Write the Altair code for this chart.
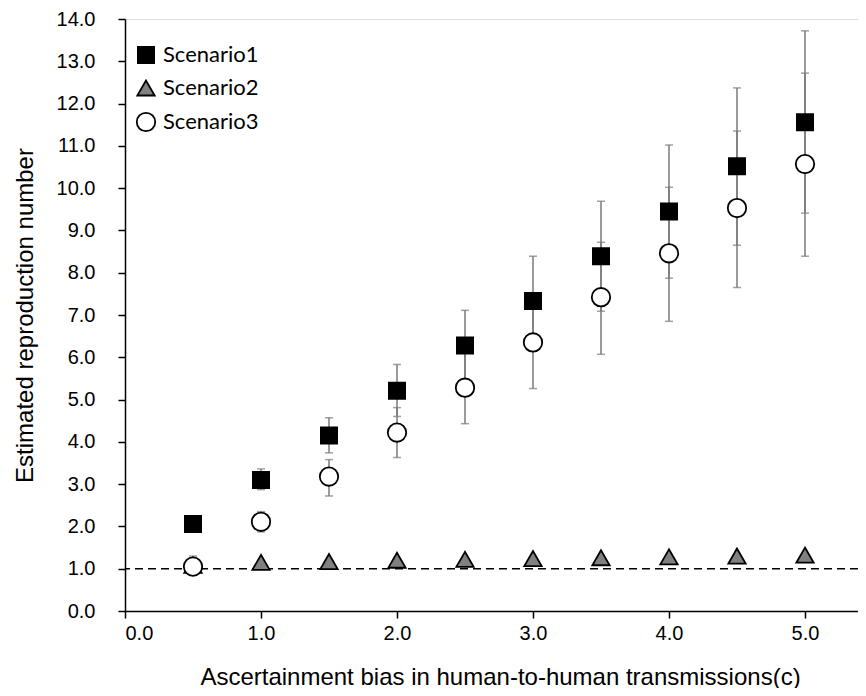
import altair as alt
import pandas as pd

# ---- data ----
x_vals = [0.5, 1.0, 1.5, 2.0, 2.5, 3.0, 3.5, 4.0, 4.5, 5.0]

s1_mid = [2.06, 3.10, 4.15, 5.21, 6.28, 7.33, 8.39, 9.45, 10.52, 11.56]
s1_lo = [2.00, 2.87, 3.74, 4.60, 5.45, 6.30, 7.09, 7.87, 8.65, 9.41]
s1_hi = [2.12, 3.36, 4.57, 5.83, 7.11, 8.39, 9.69, 11.02, 12.37, 13.72]

s2_mid = [1.08, 1.15, 1.17, 1.20, 1.22, 1.24, 1.26, 1.28, 1.30, 1.32]

s3_mid = [1.05, 2.11, 3.18, 4.22, 5.28, 6.35, 7.42, 8.46, 9.53, 10.57]
s3_lo = [0.92, 1.87, 2.72, 3.63, 4.43, 5.26, 6.07, 6.85, 7.65, 8.39]
s3_hi = [1.30, 2.35, 3.58, 4.81, 6.10, 7.40, 8.72, 10.02, 11.35, 12.72]

names = ["Scenario1", "Scenario2", "Scenario3"]
shapes = ["square", "triangle-up", "circle"]
fills = ["#000000", "#808080", "#ffffff"]
strokes = ["#000000", "#000000", "#000000"]
sizes = [262, 340, 180]
ref_line = [1.0]

y_ticks = [i * 0.5 for i in range(29)]
x_ticks = [0, 1, 2, 3, 4, 5]

# ---- tables ----
pts = pd.concat([
    pd.DataFrame({"x": x_vals, "y": s2_mid, "Scenario": "Scenario2"}),
    pd.DataFrame({"x": x_vals, "y": s1_mid, "Scenario": "Scenario1"}),
    pd.DataFrame({"x": x_vals, "y": s3_mid, "Scenario": "Scenario3"}),
], ignore_index=True)

errs = pd.concat([
    pd.DataFrame({"x": x_vals, "lo": s1_lo, "hi": s1_hi, "Scenario": "Scenario1"}),
    pd.DataFrame({"x": x_vals, "lo": s3_lo, "hi": s3_hi, "Scenario": "Scenario3"}),
], ignore_index=True)

W, H = 733, 592

xscale = alt.Scale(domain=[0, W / 136.0], nice=False, zero=False)
yscale = alt.Scale(domain=[0, 14], nice=False)

xaxis = alt.Axis(
    values=x_ticks, format=".1f", title="Ascertainment bias in human-to-human transmissions(c)",
    grid=False, domainColor="black", domainWidth=1.5, tickColor="black", tickWidth=1.5,
    tickSize=7, labelFont="Liberation Sans", labelFontSize=20, labelColor="black",
    labelPadding=5, titleFont="Liberation Sans", titleFontSize=24, titleFontWeight="normal",
    titleColor="black", titleX=375, titleY=73, titleBaseline="alphabetic",
)
yaxis = alt.Axis(
    values=y_ticks, labelExpr="datum.value % 1 == 0 ? format(datum.value, '.1f') : ''",
    title="Estimated reproduction number",
    grid=False, domainColor="black", domainWidth=1.5, tickColor="black", tickWidth=1.5,
    tickSize=7, labelFont="Liberation Sans", labelFontSize=20, labelColor="black",
    labelPadding=23, titleFont="Liberation Sans", titleFontSize=24, titleFontWeight="normal",
    titleColor="black", titleX=-93, titleY=H / 2, titleBaseline="alphabetic",
)

X = alt.X("x:Q", scale=xscale, axis=xaxis)
Xn = alt.X("x:Q", scale=xscale)

rule = alt.Chart(pd.DataFrame({"v": ref_line})).mark_rule(
    color="black", strokeWidth=1.5, strokeDash=[8, 5]
).encode(y=alt.Y("v:Q", scale=yscale, axis=yaxis))

err_rule = alt.Chart(errs).mark_rule(color="#7a7a7a", strokeWidth=1.5).encode(
    x=Xn, y=alt.Y("lo:Q", scale=yscale), y2="hi:Q"
)
cap_lo = alt.Chart(errs).mark_tick(orient="horizontal", color="#7a7a7a", thickness=1.5, size=8).encode(
    x=Xn, y=alt.Y("lo:Q", scale=yscale)
)
cap_hi = alt.Chart(errs).mark_tick(orient="horizontal", color="#7a7a7a", thickness=1.5, size=8).encode(
    x=Xn, y=alt.Y("hi:Q", scale=yscale)
)

leg = alt.Legend(
    title=None, orient="none", legendX=10, legendY=25, padding=0,
    labelFont="Lato", labelFontSize=22, labelColor="black", labelOffset=6,
    symbolStrokeWidth=1.8, rowPadding=9,
)

points = alt.Chart(pts).mark_point(filled=True, opacity=1, strokeWidth=1.8).encode(
    x=X,
    y=alt.Y("y:Q", scale=yscale),
    shape=alt.Shape("Scenario:N", scale=alt.Scale(domain=names, range=shapes), legend=leg),
    fill=alt.Fill("Scenario:N", scale=alt.Scale(domain=names, range=fills), legend=leg),
    stroke=alt.Stroke("Scenario:N", scale=alt.Scale(domain=names, range=strokes), legend=leg),
    size=alt.Size("Scenario:N", scale=alt.Scale(domain=names, range=sizes), legend=leg),
)

chart = alt.layer(rule, err_rule, cap_lo, cap_hi, points).properties(
    width=W, height=H,
    autosize=alt.AutoSizeParams(type="none"),
    padding={"left": 117, "top": 11, "right": 0, "bottom": 77},
).configure_view(stroke=None).configure(background="white")

chart.save("out.html", embed_options={"renderer": "svg", "actions": False})
